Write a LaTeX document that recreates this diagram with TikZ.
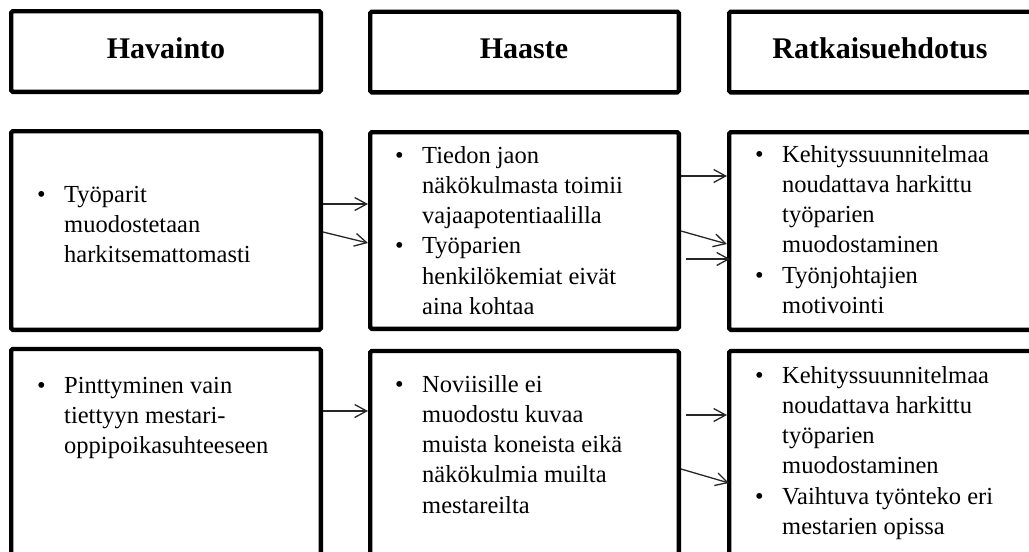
\documentclass[tikz,border=0pt]{standalone}
\usepackage{fontspec}
\setmainfont{Liberation Serif}
\usetikzlibrary{arrows.meta,calc}

% bullet column used in the item lists
\newlength\itemgap
\setlength\itemgap{27pt}
\newcommand\itemmark{\makebox[\itemgap][l]{•}}
\newcommand\itemcont{\hspace*{\itemgap}}

\begin{document}
\begin{tikzpicture}[x=1pt,y=-1pt,
  panel/.style={draw, line width=4.4pt, rounded corners=1.5pt, inner sep=0pt, fill=white},
  headtext/.style={inner sep=0pt, anchor=base, font=\fontsize{30}{35}\selectfont\bfseries},
  bodytext/.style={inner sep=0pt, anchor=base west, font=\fontsize{24.5}{30.3}\selectfont},
  link/.style={line width=1.3pt, draw=black!85, -{Straight Barb[length=12pt,width=13pt,line width=1.3pt]}}
]
\useasboundingbox (0,0) rectangle (1029,552);
\clip (0,0) rectangle (1029,552);

% column headers
\node[panel, minimum width=309.6pt, minimum height=80.6pt] (hd1) at (166,51.5) {};
\node[panel, minimum width=308.6pt, minimum height=80.6pt] (hd2) at (524.5,52) {};
\node[panel, minimum width=308.6pt, minimum height=80.6pt] (hd3) at (883.5,52) {};
\node[headtext] (ht1) at (166,58) {Havainto};
\node[headtext] (ht2) at (524,58) {Haaste};
\node[headtext] (ht3) at (880,58) {Ratkaisuehdotus};

% first row
\node[panel, minimum width=309.6pt, minimum height=198.6pt] (c11) at (166,230.5) {};
\node[panel, minimum width=308.6pt, minimum height=196.6pt] (c12) at (524.5,230.5) {};
\node[panel, minimum width=308.6pt, minimum height=197.6pt] (c13) at (883.5,231) {};

% second row
\node[panel, minimum width=309.6pt, minimum height=222pt] (c21) at (166,460) {};
\node[panel, minimum width=308.6pt, minimum height=222pt] (c22) at (524.5,462) {};
\node[panel, minimum width=308.6pt, minimum height=222pt] (c23) at (883.5,462) {};

% texts of the first row
\node[bodytext] (t11) at (37,202) {\begin{tabular}[t]{@{}l@{}}
  \itemmark Työparit\\
  \itemcont muodostetaan\\
  \itemcont harkitsemattomasti
\end{tabular}};
\node[bodytext] (t12) at (395,163) {\begin{tabular}[t]{@{}l@{}}
  \itemmark Tiedon jaon\\
  \itemcont näkökulmasta toimii\\
  \itemcont vajaapotentiaalilla\\
  \itemmark Työparien\\
  \itemcont henkilökemiat eivät\\
  \itemcont aina kohtaa
\end{tabular}};
\node[bodytext] (t13) at (755,162) {\begin{tabular}[t]{@{}l@{}}
  \itemmark Kehityssuunnitelmaa\\
  \itemcont noudattava harkittu\\
  \itemcont työparien\\
  \itemcont muodostaminen\\
  \itemmark Työnjohtajien\\
  \itemcont motivointi
\end{tabular}};

% texts of the second row
\node[bodytext] (t21) at (37,393) {\begin{tabular}[t]{@{}l@{}}
  \itemmark Pinttyminen vain\\
  \itemcont tiettyyn mestari-\\
  \itemcont oppipoikasuhteeseen
\end{tabular}};
\node[bodytext] (t22) at (395,392) {\begin{tabular}[t]{@{}l@{}}
  \itemmark Noviisille ei\\
  \itemcont muodostu kuvaa\\
  \itemcont muista koneista eikä\\
  \itemcont näkökulmia muilta\\
  \itemcont mestareilta
\end{tabular}};
\node[bodytext] (t23) at (755,383) {\begin{tabular}[t]{@{}l@{}}
  \itemmark Kehityssuunnitelmaa\\
  \itemcont noudattava harkittu\\
  \itemcont työparien\\
  \itemcont muodostaminen\\
  \itemmark Vaihtuva työnteko eri\\
  \itemcont mestarien opissa
\end{tabular}};

% connectors, first row
\draw[link] (c11.east |- 0,204) -- (c12.west |- 0,204);
\draw[link] (c11.east |- 0,232) -- (c12.west |- 0,243);
\draw[link] (c12.east |- 0,176) -- (c13.west |- 0,176);
\draw[link] (c12.east |- 0,231) -- (c13.west |- 0,244);
\draw[link] ($(c12.east |- 0,259)+(5,0)$) -- ($(c13.west |- 0,259)+(3,0)$);

% connectors, second row
\draw[link] (c21.east |- 0,411) -- (c22.west |- 0,411);
\draw[link] ($(c22.east |- 0,415)+(5,0)$) -- (c23.west |- 0,415);
\draw[link] (c22.east |- 0,469) -- ($(c23.west |- 0,483)+(2,0)$);
\end{tikzpicture}
\end{document}
